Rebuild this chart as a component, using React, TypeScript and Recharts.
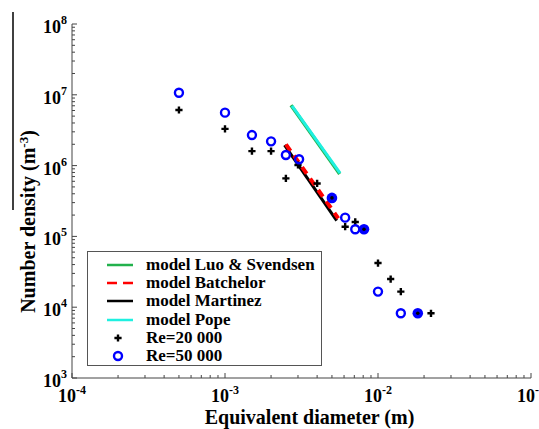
import React from 'react';
import { ComposedChart, XAxis, YAxis, Scatter, Line, Legend, Label } from 'recharts';

// ---------- data ----------
const xMajorTicks = [1e-4, 1e-3, 1e-2, 1e-1];
const yMajorTicks = [1e3, 1e4, 1e5, 1e6, 1e7, 1e8];

const re20k = [
  { x: 5e-4, y: 6.1e6 },
  { x: 1e-3, y: 3.3e6 },
  { x: 1.5e-3, y: 1.6e6 },
  { x: 2e-3, y: 1.6e6 },
  { x: 2.5e-3, y: 6.6e5 },
  { x: 3e-3, y: 1.02e6 },
  { x: 4e-3, y: 5.6e5 },
  { x: 5e-3, y: 3.5e5 },
  { x: 6.1e-3, y: 1.37e5 },
  { x: 7.1e-3, y: 1.6e5 },
  { x: 8.1e-3, y: 1.26e5 },
  { x: 1.0e-2, y: 4.2e4 },
  { x: 1.21e-2, y: 2.5e4 },
  { x: 1.41e-2, y: 1.66e4 },
  { x: 1.82e-2, y: 8.2e3 },
  { x: 2.22e-2, y: 8.2e3 },
];

const re50k = [
  { x: 5e-4, y: 1.07e7 },
  { x: 1e-3, y: 5.6e6 },
  { x: 1.5e-3, y: 2.7e6 },
  { x: 2e-3, y: 2.2e6 },
  { x: 2.5e-3, y: 1.41e6 },
  { x: 3.05e-3, y: 1.23e6 },
  { x: 6.1e-3, y: 1.84e5 },
  { x: 7.1e-3, y: 1.26e5 },
  { x: 1.0e-2, y: 1.66e4 },
  { x: 1.41e-2, y: 8.2e3 },
];

// Re=50 000 points that coincide with Re=20 000 points (drawn solid)
const re50kOverlap = [
  { x: 5e-3, y: 3.5e5 },
  { x: 8.1e-3, y: 1.26e5 },
  { x: 1.82e-2, y: 8.2e3 },
];

const modelLuo = [
  { x: 2.7e-3, y: 7.1e6 },
  { x: 5.62e-3, y: 7.6e5 },
];
const modelPope = [
  { x: 2.74e-3, y: 7.0e6 },
  { x: 5.65e-3, y: 7.8e5 },
];
const modelBatchelor = [
  { x: 2.5e-3, y: 2.0e6 },
  { x: 5.5e-3, y: 1.8e5 },
];
const modelMartinez = [
  { x: 2.45e-3, y: 1.95e6 },
  { x: 5.37e-3, y: 1.67e5 },
];

const legendNames = [
  'model Luo & Svendsen',
  'model Batchelor',
  'model Martinez',
  'model Pope',
  'Re=20 000',
  'Re=50 000',
];

const xTitle = 'Equivalent diameter (m)';
const yTitle = 'Number density (m';
const yTitleExp = '-3';

// ---------- styling ----------
const FONT = "'Liberation Serif', 'Times New Roman', Times, serif";
const AXIS = '#444';
const GREEN = '#22b14c';
const CYAN = '#1ff0e0';
const RED = '#ff0000';
const BLUE = '#0000ff';

function withMinors(majors: number[]) {
  const out: number[] = [];
  majors.forEach((m, i) => {
    out.push(m);
    if (i < majors.length - 1) {
      for (let k = 2; k <= 9; k++) out.push(+(m * k).toPrecision(6));
    }
  });
  return out;
}
const xTicks = withMinors(xMajorTicks);
const yTicks = withMinors(yMajorTicks);

const isMajor = (v: number) => Math.abs(Math.log10(v) - Math.round(Math.log10(v))) < 1e-6;
const expOf = (v: number) => Math.round(Math.log10(v));

function BottomTick(props: any) {
  const { x, y, payload } = props;
  const v = payload.value;
  const major = isMajor(v);
  return (
    <g>
      <line x1={x} x2={x} y1={y} y2={y - (major ? 5 : 3)} stroke={AXIS} strokeWidth={1} />
      {major && (
        <text x={x} y={y + 23.5} textAnchor="middle" fontFamily={FONT} fontWeight="bold" fontSize={18} fill="#000">
          <tspan>10</tspan>
          <tspan dy={-8} fontSize={12}>{expOf(v)}</tspan>
        </text>
      )}
    </g>
  );
}

function TopTick(props: any) {
  const { x, y, payload } = props;
  const major = isMajor(payload.value);
  return <line x1={x} x2={x} y1={y} y2={y + (major ? 5 : 3)} stroke={AXIS} strokeWidth={1} />;
}

function LeftTick(props: any) {
  const { x, y, payload } = props;
  const v = payload.value;
  const major = isMajor(v);
  return (
    <g>
      <line x1={x} x2={x + (major ? 5 : 3)} y1={y} y2={y} stroke={AXIS} strokeWidth={1} />
      {major && (
        <text x={x - 5} y={y + 9} textAnchor="end" fontFamily={FONT} fontWeight="bold" fontSize={18} fill="#000">
          <tspan>10</tspan>
          <tspan dy={-9} fontSize={12}>{expOf(v)}</tspan>
        </text>
      )}
    </g>
  );
}

function RightTick(props: any) {
  const { x, y, payload } = props;
  const major = isMajor(payload.value);
  return <line x1={x} x2={x - (major ? 5 : 3)} y1={y} y2={y} stroke={AXIS} strokeWidth={1} />;
}

function XTitle(props: any) {
  const vb = props.viewBox || {};
  return (
    <text
      x={vb.x + vb.width / 2 + 8}
      y={vb.y + 45.5}
      textAnchor="middle"
      fontFamily={FONT}
      fontWeight="bold"
      fontSize={20}
      fill="#000"
    >
      {xTitle}
    </text>
  );
}

function YTitle(props: any) {
  const vb = props.viewBox || {};
  const bx = vb.x + 35;
  const cy = vb.y + vb.height / 2 + 20.5;
  return (
    <g>
      <line x1={vb.x + 13} x2={vb.x + 13} y1={vb.y - 12} y2={vb.y + 186} stroke="#000" strokeWidth={1.5} />
      <text
        x={bx}
        y={cy}
        transform={`rotate(-90 ${bx} ${cy})`}
        textAnchor="middle"
        fontFamily={FONT}
        fontWeight="bold"
        fontSize={20}
        fill="#000"
      >
        {yTitle}
        <tspan dy={-7} fontSize={13}>{yTitleExp}</tspan>
        <tspan dy={7}>)</tspan>
      </text>
    </g>
  );
}

const Cross = (p: any) => (
  <path
    d={`M${p.cx - 3.6},${p.cy}H${p.cx + 3.6}M${p.cx},${p.cy - 3.6}V${p.cy + 3.6}`}
    stroke="#000"
    strokeWidth={2.4}
    fill="none"
  />
);
const Ring = (p: any) => <circle cx={p.cx} cy={p.cy} r={4} fill="none" stroke={BLUE} strokeWidth={2.4} />;
const Solid = (p: any) => (
  <g>
    <circle cx={p.cx} cy={p.cy} r={5.3} fill={BLUE} />
    <circle cx={p.cx} cy={p.cy} r={1.8} fill="#000" />
  </g>
);

function LegendIcon({ i }: { i: number }) {
  if (i === 0) return <line x1={19} x2={45} y1={9} y2={9} stroke={GREEN} strokeWidth={2.5} />;
  if (i === 1) return <line x1={19} x2={45} y1={9} y2={9} stroke={RED} strokeWidth={2.5} strokeDasharray="10 6" />;
  if (i === 2) return <line x1={19} x2={45} y1={9} y2={9} stroke="#000" strokeWidth={2.5} />;
  if (i === 3) return <line x1={19} x2={45} y1={9} y2={9} stroke={CYAN} strokeWidth={2.5} />;
  if (i === 4) return <Cross cx={30} cy={9} />;
  return <Ring cx={30} cy={9} />;
}

function LegendBox() {
  return (
    <div
      style={{
        boxSizing: 'border-box',
        width: 235,
        height: 115,
        border: '1px solid #555',
        background: '#fff',
        paddingTop: 4,
        fontFamily: FONT,
        fontWeight: 'bold',
        fontSize: 17,
        color: '#000',
      }}
    >
      {legendNames.map((name, i) => (
        <div key={name} style={{ height: 18.2, display: 'flex', alignItems: 'center', whiteSpace: 'nowrap' }}>
          <svg width={58} height={18} style={{ flex: 'none' }}>
            <LegendIcon i={i} />
          </svg>
          <span style={{ lineHeight: '18px' }}>{name}</span>
        </div>
      ))}
    </div>
  );
}

export default function App() {
  return (
    <div style={{ position: 'absolute', left: 0, top: 0, width: 539, height: 429, background: '#fff' }}>
      <ComposedChart width={539} height={429} margin={{ top: 24, right: 8, left: 0, bottom: 0 }}>
        <XAxis
          xAxisId="b"
          dataKey="x"
          type="number"
          scale="log"
          domain={[1e-4, 1e-1]}
          allowDataOverflow
          ticks={xTicks}
          interval={0}
          height={51}
          tickSize={0}
          tickMargin={0}
          tickLine={false}
          axisLine={{ stroke: AXIS }}
          tick={BottomTick}
        >
          <Label content={XTitle} />
        </XAxis>
        <XAxis
          xAxisId="t"
          dataKey="x"
          orientation="top"
          mirror
          type="number"
          scale="log"
          domain={[1e-4, 1e-1]}
          allowDataOverflow
          ticks={xTicks}
          interval={0}
          height={0}
          tickSize={0}
          tickMargin={0}
          tickLine={false}
          axisLine={{ stroke: AXIS }}
          tick={TopTick}
        />
        <YAxis
          yAxisId="l"
          dataKey="y"
          type="number"
          scale="log"
          domain={[1e3, 1e8]}
          allowDataOverflow
          ticks={yTicks}
          interval={0}
          width={72}
          tickSize={0}
          tickMargin={0}
          tickLine={false}
          axisLine={{ stroke: AXIS }}
          tick={LeftTick}
        >
          <Label content={YTitle} />
        </YAxis>
        <YAxis
          yAxisId="r"
          dataKey="y"
          orientation="right"
          mirror
          type="number"
          scale="log"
          domain={[1e3, 1e8]}
          allowDataOverflow
          ticks={yTicks}
          interval={0}
          width={0}
          tickSize={0}
          tickMargin={0}
          tickLine={false}
          axisLine={{ stroke: AXIS }}
          tick={RightTick}
        />

        <Scatter xAxisId="b" yAxisId="l" name="Re=20 000" data={re20k} shape={Cross} isAnimationActive={false} />
        <Scatter xAxisId="b" yAxisId="l" name="Re=50 000" data={re50k} shape={Ring} isAnimationActive={false} />
        <Scatter xAxisId="b" yAxisId="l" name="overlap" legendType="none" data={re50kOverlap} shape={Solid} isAnimationActive={false} />

        <Line xAxisId="b" yAxisId="l" name="model Martinez" data={modelMartinez} dataKey="y" stroke="#000" strokeWidth={3} dot={false} isAnimationActive={false} />
        <Line xAxisId="b" yAxisId="l" name="model Batchelor" data={modelBatchelor} dataKey="y" stroke={RED} strokeWidth={4} strokeDasharray="8 6" dot={false} isAnimationActive={false} />
        <Line xAxisId="b" yAxisId="l" name="model Luo & Svendsen" data={modelLuo} dataKey="y" stroke={GREEN} strokeWidth={3.5} dot={false} isAnimationActive={false} />
        <Line xAxisId="b" yAxisId="l" name="model Pope" data={modelPope} dataKey="y" stroke={CYAN} strokeWidth={3} dot={false} isAnimationActive={false} />

        <Legend
          layout="vertical"
          align="center"
          verticalAlign="middle"
          wrapperStyle={{ left: 87, top: 251, width: 235, height: 115 }}
          content={() => <LegendBox />}
        />
      </ComposedChart>
    </div>
  );
}
